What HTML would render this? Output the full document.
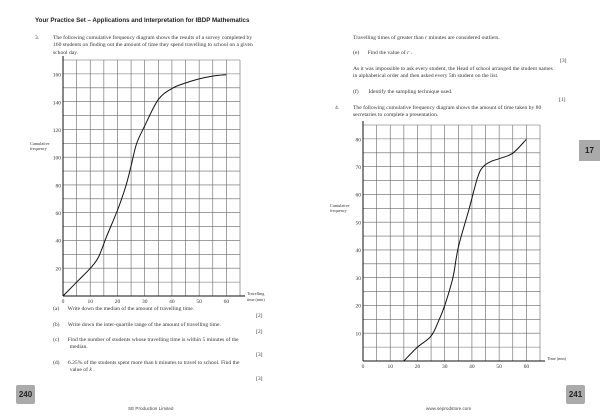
<!DOCTYPE html>
<html><head><meta charset="utf-8">
<style>
body{margin:0;width:600px;height:420px;background:#fff;position:relative;overflow:hidden;font-family:"Liberation Serif",serif;color:#333}
.t{position:absolute;font-size:5.6px;line-height:7.4px;white-space:nowrap}
.h{position:absolute;font-family:"Liberation Sans",sans-serif;font-weight:bold;font-size:6.2px;color:#222}
.tab{position:absolute;background:#aaa;color:#222;font-family:"Liberation Sans",sans-serif;font-weight:bold;font-size:8px;display:flex;align-items:center;justify-content:center;border-radius:2px}
.f{position:absolute;font-family:"Liberation Sans",sans-serif;font-size:4.6px;color:#444}
svg{position:absolute;left:0;top:0}
</style></head><body>
<div class="h" style="left:35px;top:17px">Your Practice Set – Applications and Interpretation for IBDP Mathematics</div>
<div class="t" style="left:35px;top:35px">3.</div>
<div class="t" style="left:53px;top:35px">The following cumulative frequency diagram shows the results of a survey completed by<br>160 students on finding out the amount of time they spend travelling to school on a given<br>school day.</div>
<div class="t" style="left:53px;top:306px">(a)&nbsp;&nbsp;&nbsp;&nbsp;&nbsp;&nbsp;Write down the median of the amount of travelling time.</div>
<div class="t" style="left:256px;top:313px">[2]</div>
<div class="t" style="left:53px;top:322px">(b)&nbsp;&nbsp;&nbsp;&nbsp;&nbsp;&nbsp;Write down the inter-quartile range of the amount of travelling time.</div>
<div class="t" style="left:256px;top:329px">[2]</div>
<div class="t" style="left:53px;top:337px">(c)&nbsp;&nbsp;&nbsp;&nbsp;&nbsp;&nbsp;Find the number of students whose travelling time is within 5 minutes of the<br>&nbsp;&nbsp;&nbsp;&nbsp;&nbsp;&nbsp;&nbsp;&nbsp;&nbsp;&nbsp;&nbsp;&nbsp;median.</div>
<div class="t" style="left:256px;top:352px">[3]</div>
<div class="t" style="left:53px;top:360px">(d)&nbsp;&nbsp;&nbsp;&nbsp;&nbsp;&nbsp;6.25% of the students spent more than <i>k</i> minutes to travel to school. Find the<br>&nbsp;&nbsp;&nbsp;&nbsp;&nbsp;&nbsp;&nbsp;&nbsp;&nbsp;&nbsp;&nbsp;&nbsp;value of <i>k</i> .</div>
<div class="t" style="left:256px;top:376px">[3]</div>
<div class="tab" style="left:16px;top:176px;top:176px;width:19px;height:19px;top:176px;top:176px;top:385px">240</div>
<div class="f" style="left:128px;top:191px;top:191px;top:192px;top:192px;top:406px">SE Production Limited</div>

<div class="t" style="left:353px;top:35px">Travelling times of greater than <i>r</i> minutes are considered outliers.</div>
<div class="t" style="left:353px;top:50px">(e)&nbsp;&nbsp;&nbsp;&nbsp;&nbsp;&nbsp;Find the value of <i>r</i> .</div>
<div class="t" style="left:560px;top:58px">[3]</div>
<div class="t" style="left:353px;top:66px">As it was impossible to ask every student, the Head of school arranged the student names<br>in alphabetical order and then asked every 5th student on the list.</div>
<div class="t" style="left:353px;top:89px">(f)&nbsp;&nbsp;&nbsp;&nbsp;&nbsp;&nbsp;&nbsp;Identify the sampling technique used.</div>
<div class="t" style="left:559px;top:97px">[1]</div>
<div class="t" style="left:335px;top:105px">4.</div>
<div class="t" style="left:353px;top:105px">The following cumulative frequency diagram shows the amount of time taken by 80<br>secretaries to complete a presentation.</div>
<div class="tab" style="left:579px;top:140px;width:21px;height:21px;border-radius:0">17</div>
<div class="tab" style="left:566px;top:385px;width:19px;height:19px">241</div>
<div class="f" style="left:426px;top:406px">www.seprodstore.com</div>

<svg id="chart" width="600" height="420"></svg>
<script>
const leftX = [0, 5, 10, 13, 16, 20, 23, 25, 27, 30, 35, 40, 45, 50, 55, 60];
const leftY = [0, 10, 20, 28, 43, 62, 79, 94, 110, 123, 142, 150, 154, 157, 159, 160];
const leftXTicks = ['0','10','20','30','40','50','60'];
const leftYTicks = ['20','40','60','80','100','120','140','160'];
const rightX = [15, 20, 25, 28, 30, 33, 35, 39, 42, 44, 47, 50, 55, 60];
const rightY = [0, 5, 9, 15, 20, 30, 41, 55, 66, 70, 72, 73, 75, 80];
const rightXTicks = ['0','10','20','30','40','50','60'];
const rightYTicks = ['10','20','30','40','50','60','70','80'];

const NS='http://www.w3.org/2000/svg';
const svg=document.getElementById('chart');
function mk(tag,attrs){const e=document.createElementNS(NS,tag);for(const k in attrs)e.setAttribute(k,attrs[k]);svg.appendChild(e);return e;}
function smooth(pts){let d='M'+pts[0][0]+','+pts[0][1];for(let i=0;i<pts.length-1;i++){const p0=pts[Math.max(i-1,0)],p1=pts[i],p2=pts[i+1],p3=pts[Math.min(i+2,pts.length-1)];const c1=[p1[0]+(p2[0]-p0[0])/6,p1[1]+(p2[1]-p0[1])/6],c2=[p2[0]-(p3[0]-p1[0])/6,p2[1]-(p3[1]-p1[1])/6];d+=' C'+c1[0].toFixed(2)+','+c1[1].toFixed(2)+' '+c2[0].toFixed(2)+','+c2[1].toFixed(2)+' '+p2[0].toFixed(2)+','+p2[1].toFixed(2);}return d;}
function chart(o){
  const sx=v=>o.x0+v*(o.x1-o.x0)/o.xMax, sy=v=>o.y0-v*(o.y0-o.y1)/o.yMax;
  const cw=(o.x1-o.x0)/13, rh=(o.y0-o.yTop)/17;
  for(let i=1;i<=13;i++){const g=mk('line',{x1:o.x0+i*cw,x2:o.x0+i*cw,y1:o.yTop,y2:o.y0,stroke:'#666','stroke-width':0.6});
    }
  for(let j=1;j<=17;j++){const g=mk('line',{x1:o.x0,x2:o.x1,y1:o.y0-j*rh,y2:o.y0-j*rh,stroke:'#666','stroke-width':0.6});
    }
  const ya=mk('line',{x1:o.x0,x2:o.x0,y1:o.yTop-4,y2:o.y0,stroke:'#111','stroke-width':1});
  
  const xa=mk('line',{x1:o.x0,x2:o.x1+5,y1:o.y0,y2:o.y0,stroke:'#111','stroke-width':1});
  
  o.xt.forEach((t,i)=>{const v=+t;const e=mk('text',{x:sx(v),y:o.y0+7,'font-size':5.5,'text-anchor':'middle','font-family':'Liberation Serif',fill:'#333'});e.textContent=t;
    });
  o.yt.forEach(t=>{const v=+t;const e=mk('text',{x:o.x0-2,y:sy(v)+2,'font-size':5.5,'text-anchor':'end','font-family':'Liberation Serif',fill:'#333'});e.textContent=t;
    });
  const pts=o.xs.map((x,i)=>[sx(x),sy(o.ys[i])]);
  const p=mk('path',{d:smooth(pts),fill:'none',stroke:'#111','stroke-width':1});
  
  const yl=mk('text',{x:o.ylx,y:o.yly,'font-size':4.2,'font-family':'Liberation Serif',fill:'#333'});
  yl.innerHTML='<tspan x="'+o.ylx+'">Cumulative</tspan><tspan x="'+o.ylx+'" dy="5">frequency</tspan>';
  
  const xl=mk('text',{x:o.x1+7,y:o.y0-1,'font-size':4.2,'font-family':'Liberation Serif',fill:'#333'});
  xl.innerHTML='<tspan x="'+(o.x1+7)+'">'+o.xl1+'</tspan>'+(o.xl2?'<tspan x="'+(o.x1+7)+'" dy="6">'+o.xl2+'</tspan>':'');
  
}
chart({x0:63,x1:240,xMax:65,y0:296,y1:74.7,yMax:160,yTop:60,xt:leftXTicks,yt:leftYTicks,xs:leftX,ys:leftY,name:'travel-time-curve',ylx:30,yly:145,xl1:'Travelling',xl2:'time (min)'});
chart({x0:363,x1:540,xMax:65,y0:361,y1:139.3,yMax:80,yTop:125,xt:rightXTicks,yt:rightYTicks,xs:rightX,ys:rightY,name:'presentation-time-curve',ylx:330,yly:207,xl1:'Time (min)',xl2:''});
</script>
</body></html>
